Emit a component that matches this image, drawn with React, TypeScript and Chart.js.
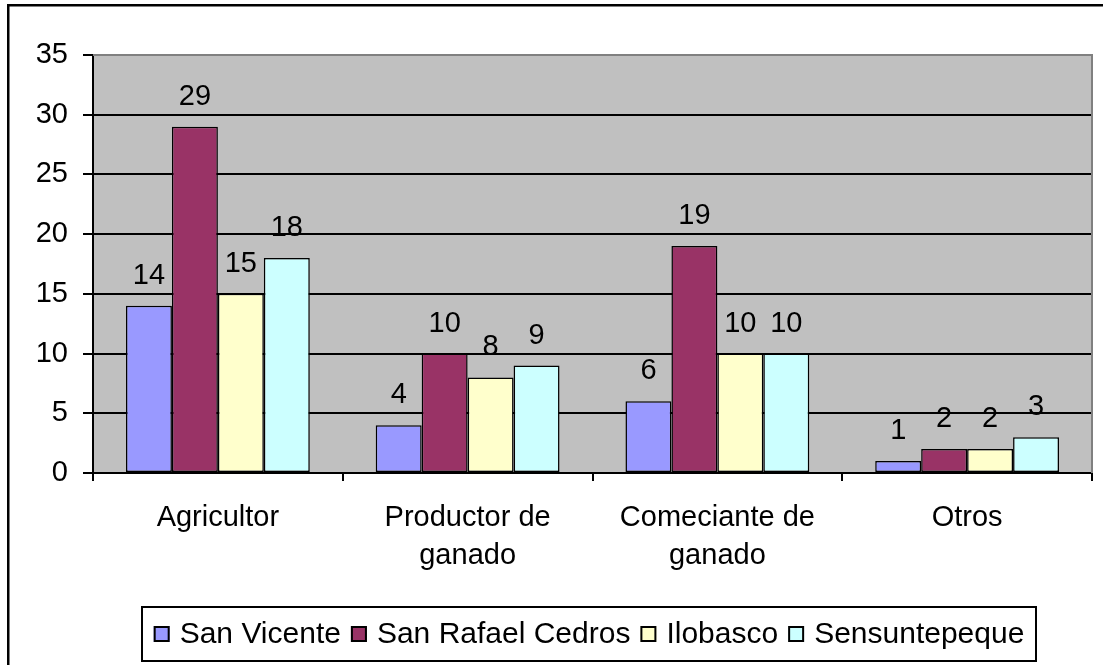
import React, { useEffect, useRef } from "react";
import { Chart, registerables } from "chart.js";

Chart.register(...registerables);

const categories: string[][] = [
  ["Agricultor"],
  ["Productor de", "ganado"],
  ["Comeciante de", "ganado"],
  ["Otros"],
];
const seriesNames = ["San Vicente", "San Rafael Cedros", "Ilobasco", "Sensuntepeque"];
const sanVicente = [14, 4, 6, 1];
const sanRafaelCedros = [29, 10, 19, 2];
const ilobasco = [15, 8, 10, 2];
const sensuntepeque = [18, 9, 10, 3];
const seriesValues = [sanVicente, sanRafaelCedros, ilobasco, sensuntepeque];
const seriesColors = ["#9999FF", "#993366", "#FFFFCC", "#CCFFFF"];
const yMin = 0;
const yMax = 35;
const yStep = 5;

const FAMILY = "'Liberation Sans', Arial, sans-serif";
const FSIZE = 29;
const FONT = `${FSIZE}px ${FAMILY}`;
const LEGEND_FONT = `30px ${FAMILY}`;

const framePlugin = {
  id: "frame",
  beforeDraw(chart: any) {
    const { ctx, chartArea: a } = chart;
    ctx.save();
    ctx.fillStyle = "#ffffff";
    ctx.fillRect(0, 0, chart.width, chart.height);
    ctx.strokeStyle = "#000000";
    ctx.lineWidth = 2.5;
    ctx.strokeRect(8.25, 5.25, chart.width + 20, chart.height + 20);
    ctx.fillStyle = "#C0C0C0";
    ctx.fillRect(a.left, a.top, a.right - a.left, a.bottom - a.top);
    ctx.restore();
  },
  afterDatasetsDraw(chart: any) {
    const { ctx } = chart;
    ctx.save();
    ctx.font = FONT;
    ctx.fillStyle = "#000000";
    ctx.textAlign = "center";
    ctx.textBaseline = "alphabetic";
    chart.data.datasets.forEach((ds: any, i: number) => {
      const meta = chart.getDatasetMeta(i);
      meta.data.forEach((bar: any, j: number) => {
        ctx.fillText(String(ds.data[j]), bar.x, bar.y - 22);
      });
    });
    ctx.restore();
  },
  afterDraw(chart: any) {
    const { ctx, chartArea: a } = chart;
    ctx.save();
    // plot area border (gray top & right)
    ctx.strokeStyle = "#808080";
    ctx.lineWidth = 2;
    ctx.beginPath();
    ctx.moveTo(a.left, a.top);
    ctx.lineTo(a.right, a.top);
    ctx.lineTo(a.right, a.bottom);
    ctx.stroke();

    // legend
    const box = { l: 142, t: 607, r: 1036, b: 661 };
    ctx.strokeStyle = "#000000";
    ctx.lineWidth = 2;
    ctx.strokeRect(box.l, box.t, box.r - box.l, box.b - box.t);
    ctx.font = LEGEND_FONT;
    const marker = 16;
    const mgap = 10;
    const igap = 10;
    const widths = chart.data.datasets.map((d: any) => ctx.measureText(d.label).width);
    let total = 0;
    widths.forEach((w: number) => (total += marker + mgap + w));
    total += igap * (widths.length - 1);
    let x = (box.l + box.r) / 2 - total / 2;
    const cy = (box.t + box.b) / 2;
    ctx.textAlign = "left";
    ctx.textBaseline = "middle";
    chart.data.datasets.forEach((d: any, i: number) => {
      ctx.fillStyle = d.backgroundColor;
      ctx.fillRect(x, cy - marker / 2, marker, marker);
      ctx.lineWidth = 2;
      ctx.strokeStyle = "#000000";
      ctx.strokeRect(x + 1, cy - marker / 2 + 1, marker - 2, marker - 2);
      x += marker + mgap;
      ctx.fillStyle = "#000000";
      ctx.fillText(d.label, x, cy + 1);
      x += widths[i] + igap;
    });
    ctx.restore();
  },
};

export default function App() {
  const ref = useRef<HTMLCanvasElement | null>(null);
  useEffect(() => {
    if (!ref.current) return;
    const chart = new Chart(ref.current, {
      type: "bar",
      data: {
        labels: categories,
        datasets: seriesNames.map((name, i) => ({
          label: name,
          data: seriesValues[i],
          backgroundColor: seriesColors[i],
          borderColor: "#000000",
          borderWidth: 1.5,
          borderSkipped: false,
          categoryPercentage: 0.736,
          barPercentage: 1,
        })),
      },
      options: {
        animation: false,
        responsive: false,
        devicePixelRatio: 1,
        layout: { padding: { left: 0, top: 55, right: 11, bottom: 0 } },
        plugins: {
          legend: { display: false },
          tooltip: { enabled: false },
        },
        scales: {
          x: {
            afterFit: (s: any) => {
              s.height = 192;
            },
            grid: {
              offset: true,
              drawOnChartArea: false,
              drawTicks: true,
              tickLength: 8,
              color: "#000000",
              lineWidth: 2,
            },
            border: { display: true, color: "#000000", width: 2 },
            ticks: {
              color: "#000000",
              font: { family: FAMILY, size: FSIZE, lineHeight: 38 / FSIZE },
              padding: 18,
              maxRotation: 0,
              autoSkip: false,
            },
          },
          y: {
            min: yMin,
            max: yMax,
            afterFit: (s: any) => {
              s.width = 93;
            },
            grid: {
              color: "#000000",
              lineWidth: 2,
              tickLength: 10,
              drawTicks: true,
            },
            border: { display: true, color: "#000000", width: 2 },
            ticks: {
              stepSize: yStep,
              color: "#000000",
              font: { family: FAMILY, size: FSIZE },
              padding: 15,
            },
          },
        },
      },
      plugins: [framePlugin],
    });
    return () => chart.destroy();
  }, []);
  return (
    <div style={{ position: "absolute", left: 0, top: 0, width: 1103, height: 665 }}>
      <canvas ref={ref} width={1103} height={665} style={{ display: "block" }} />
    </div>
  );
}
